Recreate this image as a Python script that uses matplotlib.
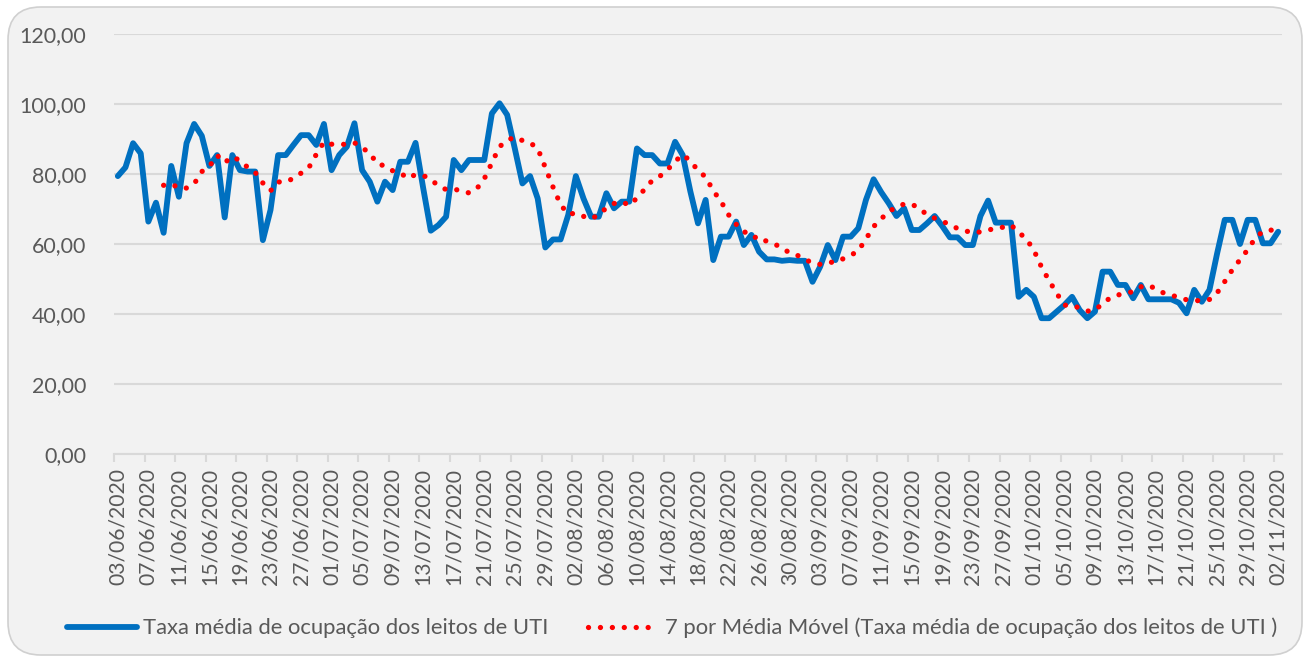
import matplotlib
matplotlib.use("Agg")
import matplotlib.pyplot as plt
from matplotlib.patches import FancyBboxPatch
from matplotlib.ticker import FuncFormatter, FixedLocator
import numpy as np
import pandas as pd

start_date = "2020-06-03"
n_days = 153
dates = pd.date_range(start_date, periods=n_days, freq="D")
date_labels = [d.strftime("%d/%m/%Y") for d in dates]

ocupacao = [
    79.4, 81.9, 88.8, 85.9, 66.4, 71.8, 63.2, 82.3, 73.5, 88.8,
    94.3, 90.9, 82.3, 85.4, 67.6, 85.4, 81.1, 80.7, 80.7, 61.1,
    69.7, 85.4, 85.4, 88.3, 91.1, 91.1, 88.3, 94.3, 81.1, 85.4,
    87.8, 94.5, 81.1, 77.8, 72.1, 77.8, 75.4, 83.5, 83.5, 88.9,
    76.0, 63.8, 65.4, 67.8, 84.0, 81.1, 84.0, 84.0, 84.0, 97.3,
    100.2, 96.9, 87.3, 77.3, 79.4, 73.0, 59.0, 61.3, 61.3, 68.3,
    79.4, 73.0, 67.8, 67.8, 74.5, 70.2, 72.1, 72.1, 87.3, 85.4,
    85.4, 83.0, 83.0, 89.2, 85.4, 75.0, 65.9, 72.6, 55.4, 62.1,
    62.1, 66.4, 59.7, 62.6, 57.8, 55.6, 55.6, 55.2, 55.4, 55.2,
    55.2, 49.2, 53.5, 59.7, 55.4, 62.1, 62.1, 64.5, 72.6, 78.5,
    74.8, 71.6, 68.0, 70.2, 64.0, 64.0, 65.9, 68.0, 65.1, 61.9,
    61.9, 59.7, 59.7, 68.0, 72.4, 66.1, 66.1, 66.1, 44.9, 46.9,
    44.9, 38.8, 38.8, 40.7, 42.6, 44.9, 41.1, 38.8, 40.7, 52.1,
    52.1, 48.3, 48.3, 44.5, 48.3, 44.2, 44.2, 44.2, 44.2, 43.2,
    40.2, 46.9, 43.5, 46.9, 57.3, 66.9, 66.9, 60.0, 66.9, 66.9,
    60.2, 60.2, 63.5,
]
ma_window = 7
serie_label = "Taxa média de ocupação dos leitos de UTI"
ma_label = "7 por Média Móvel (Taxa média de ocupação dos leitos de UTI )"
y_ticks = [0, 20, 40, 60, 80, 100, 120]

media_movel = pd.Series(ocupacao).rolling(ma_window).mean()

plt.rcParams['font.family'] = ['Lato', 'DejaVu Sans']
txt_color = "#595959"
grid_color = "#D9D9D9"
fs = 15.8

fig = plt.figure(figsize=(13.14, 6.62), dpi=100)
fig.patch.set_facecolor("white")
W, H = 1314, 662
bg = FancyBboxPatch((8 / W, 7 / H), (1302 - 8) / W, (655 - 7) / H,
                    boxstyle="round,pad=0,rounding_size=0.025",
                    transform=fig.transFigure, facecolor="#F2F2F2",
                    edgecolor="#D0D0D0", linewidth=1.2, zorder=-10,
                    mutation_aspect=W / H)
fig.patches.append(bg)

ax = fig.add_axes([114 / W, 1 - 454 / H, (1282 - 114) / W, (454 - 34) / H])
ax.set_zorder(1)
ax.set_facecolor("none")

x = np.arange(n_days)
ax.plot(x, ocupacao, color="#0070C0", lw=4.2, solid_joinstyle="round",
        solid_capstyle="round", zorder=3, label=serie_label)
ax.plot(x, media_movel, color="#FF0000", lw=3.8,
        linestyle=(0, (0.01, 2.25)), dash_capstyle="round", zorder=4,
        label=ma_label)

ax.set_xlim(-0.5, n_days - 0.5)
ax.set_ylim(0, 120)
ax.set_yticks(y_ticks)
ax.yaxis.set_major_formatter(FuncFormatter(lambda v, p: f"{v:.2f}".replace(".", ",")))
ax.grid(axis="y", color=grid_color, lw=1.5, zorder=0)
ax.tick_params(axis="y", length=0, pad=20, labelsize=15.4, labelcolor=txt_color)

label_pos = list(range(0, n_days, 4))
ax.xaxis.set_major_locator(FixedLocator([p - 0.5 for p in label_pos]))
ax.xaxis.set_major_formatter(FuncFormatter(lambda v, p: ""))
ax.xaxis.set_minor_locator(FixedLocator(label_pos))
ax.set_xticklabels([date_labels[p] for p in label_pos], minor=True, rotation=90)
ax.tick_params(axis="x", which="major", length=6, width=1.5, color=grid_color)
ax.tick_params(axis="x", which="minor", length=0, pad=10, labelsize=15.2,
               labelcolor=txt_color)
for lab in ax.get_xticklabels(minor=True):
    lab.set_verticalalignment("top")

for s in ["top", "right", "left"]:
    ax.spines[s].set_visible(False)
ax.spines["bottom"].set_color(grid_color)
ax.spines["bottom"].set_linewidth(1.5)

leg = fig.legend(loc="center", bbox_to_anchor=(672 / W, 1 - 628 / H), ncol=2,
                 frameon=False, fontsize=fs, handlelength=3.2,
                 handletextpad=0.3, columnspacing=1.8)
for t in leg.get_texts():
    t.set_color(txt_color)

fig.savefig("out.png", dpi=100, facecolor=fig.get_facecolor())
